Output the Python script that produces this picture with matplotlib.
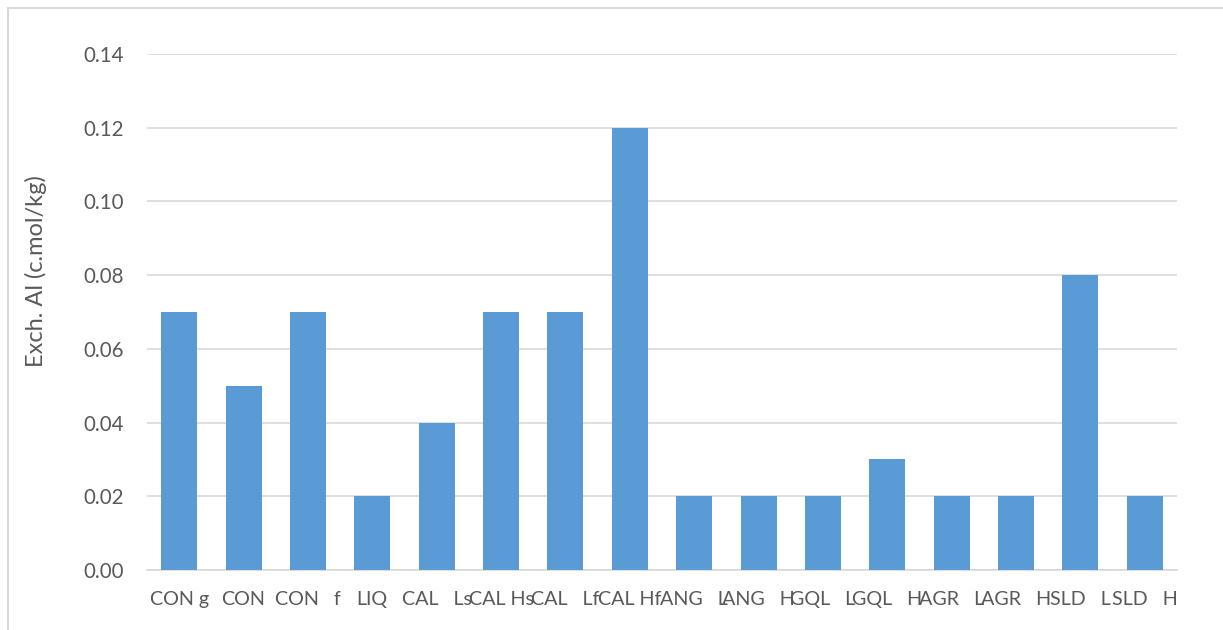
import matplotlib
matplotlib.use("Agg")
import matplotlib.pyplot as plt
from matplotlib.patches import Rectangle

# site / horizon labels and exchangeable aluminium
sites = ["CON g", "CON", "CON   f", "LIQ", "CAL   Ls", "CAL Hs", "CAL   Lf", "CAL Hf",
         "ANG   L", "ANG   H", "GQL   L", "GQL   H", "AGR   L", "AGR   H", "SLD   L", "SLD   H"]
exch_al = [0.07, 0.05, 0.07, 0.02, 0.04, 0.07, 0.07, 0.12,
           0.02, 0.02, 0.02, 0.03, 0.02, 0.02, 0.08, 0.02]
yticks = [0.00, 0.02, 0.04, 0.06, 0.08, 0.10, 0.12, 0.14]

plt.rcParams['font.family'] = ['Lato', 'DejaVu Sans']
text_col = '#595959'
grid_col = '#d9d9d9'

fig = plt.figure(figsize=(12.23, 6.3), dpi=100)
ax = fig.add_axes([147 / 1223, 1 - 570 / 630, (1177 - 147) / 1223, (570 - 54) / 630])

x = list(range(len(sites)))
ax.bar(x, exch_al, width=0.56, color='#5b9bd5', zorder=3)

ax.set_xlim(-0.5, len(sites) - 0.5)
ax.set_ylim(0, 0.14)
ax.set_yticks(yticks)
ax.set_yticklabels([f"{v:.2f}" for v in yticks])
ax.set_xticks(x)
ax.set_xticklabels(sites)
ax.tick_params(axis='both', length=0, colors=text_col)
ax.tick_params(axis='y', labelsize=14.8, pad=17)
ax.tick_params(axis='x', labelsize=14.2, pad=15)

ax.grid(axis='y', color=grid_col, linewidth=1.2, zorder=0)
for s in ['top', 'right', 'left']:
    ax.spines[s].set_visible(False)
ax.spines['bottom'].set_color(grid_col)
ax.spines['bottom'].set_linewidth(1.2)

ax.set_ylabel("Exch. Al (c.mol/kg)", fontsize=17, color=text_col, va='center')
ax.yaxis.set_label_coords(-0.108, 0.579)

# outer chart frame
fig.patches.append(Rectangle((8 / 1223, -0.1), 1.2, 1 - 8 / 630 + 0.1,
                             transform=fig.transFigure, fill=False,
                             edgecolor=grid_col, linewidth=1.5))

fig.savefig("out.png", dpi=100)
